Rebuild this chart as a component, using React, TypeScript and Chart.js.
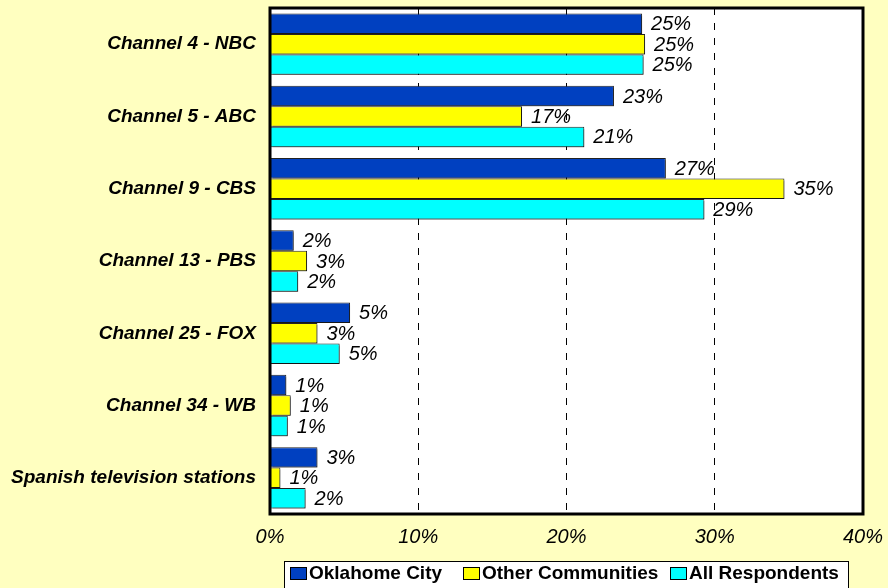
import React, { useEffect, useRef } from "react";
import { Chart, registerables } from "chart.js";

Chart.register(...registerables);

const categories = [
  "Channel 4 - NBC",
  "Channel 5 - ABC",
  "Channel 9 - CBS",
  "Channel 13 - PBS",
  "Channel 25 - FOX",
  "Channel 34 - WB",
  "Spanish television stations",
];
const oklahomaCity = [25.1, 23.2, 26.7, 1.6, 5.4, 1.1, 3.2];
const otherCommunities = [25.3, 17.0, 34.7, 2.5, 3.2, 1.4, 0.7];
const allRespondents = [25.2, 21.2, 29.3, 1.9, 4.7, 1.2, 2.4];
const xTicks = [0, 10, 20, 30, 40];

const seriesNames = ["Oklahome City", "Other Communities", "All Respondents"];
const seriesColors = ["#0040C0", "#FFFF00", "#00FFFF"];

const legendStarts = [290, 463, 670];

export default function App() {
  const ref = useRef<HTMLCanvasElement>(null);
  useEffect(() => {
    if (!ref.current) return;
    const shadowPlugin = {
      id: "shadow",
      beforeDatasetsDraw(chart: any) {
        const c = chart.ctx;
        c.save();
        c.shadowColor = "rgba(0,0,0,0.35)";
        c.shadowOffsetX = 2;
        c.shadowOffsetY = 2;
        c.shadowBlur = 0;
      },
      afterDatasetsDraw(chart: any) {
        const c = chart.ctx;
        c.restore();
        c.save();
        c.font = "italic 20px Arial, 'Liberation Sans', sans-serif";
        c.fillStyle = "#000";
        c.textBaseline = "middle";
        c.textAlign = "left";
        chart.data.datasets.forEach((ds: any, di: number) => {
          const meta = chart.getDatasetMeta(di);
          meta.data.forEach((bar: any, i: number) => {
            const v = ds.data[i];
            c.fillText(Math.round(v) + "%", bar.x + 9, bar.y + 1);
          });
        });
        c.restore();
        const a = chart.chartArea;
        c.save();
        c.strokeStyle = "#000";
        c.lineWidth = 3;
        c.strokeRect(a.left, a.top, a.right - a.left, a.bottom - a.top);
        c.restore();
      },
    };
    const bgPlugin = {
      id: "bg",
      beforeDraw(chart: any) {
        const c = chart.ctx;
        c.save();
        c.fillStyle = "#FFFFC0";
        c.fillRect(0, 0, chart.width, chart.height);
        const a = chart.chartArea;
        c.fillStyle = "#FFFFFF";
        c.fillRect(a.left, a.top, a.right - a.left, a.bottom - a.top);
        c.restore();
      },
    };
    const legendPlugin = {
      id: "customLegend",
      afterDraw(chart: any) {
        const c = chart.ctx;
        c.save();
        c.fillStyle = "#FFFFFF";
        c.fillRect(284, 561, 564, 30);
        c.strokeStyle = "#000";
        c.lineWidth = 1;
        c.strokeRect(284.5, 561.5, 564, 30);
        c.font = "bold 19px Arial, 'Liberation Sans', sans-serif";
        c.textBaseline = "middle";
        chart.data.datasets.forEach((ds: any, i: number) => {
          const x = legendStarts[i];
          c.fillStyle = ds.backgroundColor;
          c.fillRect(x, 567, 16, 12);
          c.strokeStyle = "#000";
          c.strokeRect(x + 0.5, 567.5, 16, 12);
          c.fillStyle = "#000";
          c.fillText(ds.label, x + 19, 574);
        });
        c.restore();
      },
    };
    const datasets = [oklahomaCity, otherCommunities, allRespondents].map((d, i) => ({
      label: seriesNames[i],
      data: d,
      backgroundColor: seriesColors[i],
      borderColor: "#222",
      borderWidth: 1,
      categoryPercentage: 0.85,
      barPercentage: 1.0,
    }));
    const zeroPad = (s: any) => {
      s.paddingTop = 0;
      s.paddingBottom = 0;
      s.paddingLeft = 0;
      s.paddingRight = 0;
    };
    const chart = new Chart(ref.current, {
      type: "bar",
      data: { labels: categories, datasets },
      options: {
        indexAxis: "y",
        animation: false,
        responsive: false,
        devicePixelRatio: 1,
        layout: { padding: { top: 8, right: 25, left: 0, bottom: 0 }, autoPadding: false },
        plugins: { legend: { display: false }, tooltip: { enabled: false } },
        scales: {
          x: {
            min: 0,
            max: 40,
            afterBuildTicks: (s: any) => {
              s.ticks = xTicks.map((v) => ({ value: v }));
            },
            afterFit: (s: any) => {
              s.height = 74;
              zeroPad(s);
            },
            ticks: {
              callback: (v: any) => v + "%",
              color: "#000",
              font: { family: "Arial, 'Liberation Sans', sans-serif", size: 20, style: "italic" },
              padding: 11,
              maxRotation: 0,
            },
            grid: {
              color: (ctx: any) =>
                ctx.tick && (ctx.tick.value === 0 || ctx.tick.value === 40) ? "rgba(0,0,0,0)" : "#000",
              lineWidth: 1,
              drawTicks: false,
            },
            border: { display: false, dash: [7, 8] },
          },
          y: {
            afterFit: (s: any) => {
              s.width = 270;
              zeroPad(s);
            },
            ticks: {
              color: "#000",
              font: { family: "Arial, 'Liberation Sans', sans-serif", size: 19, style: "italic", weight: "bold" },
              padding: 14,
            },
            grid: { display: false, drawTicks: false },
            border: { display: false },
          },
        },
      },
      plugins: [bgPlugin, shadowPlugin, legendPlugin],
    });
    return () => chart.destroy();
  }, []);
  return (
    <div style={{ position: "fixed", left: 0, top: 0, width: 888, height: 588, background: "#FFFFC0" }}>
      <canvas ref={ref} width={888} height={588} style={{ display: "block" }} />
    </div>
  );
}
